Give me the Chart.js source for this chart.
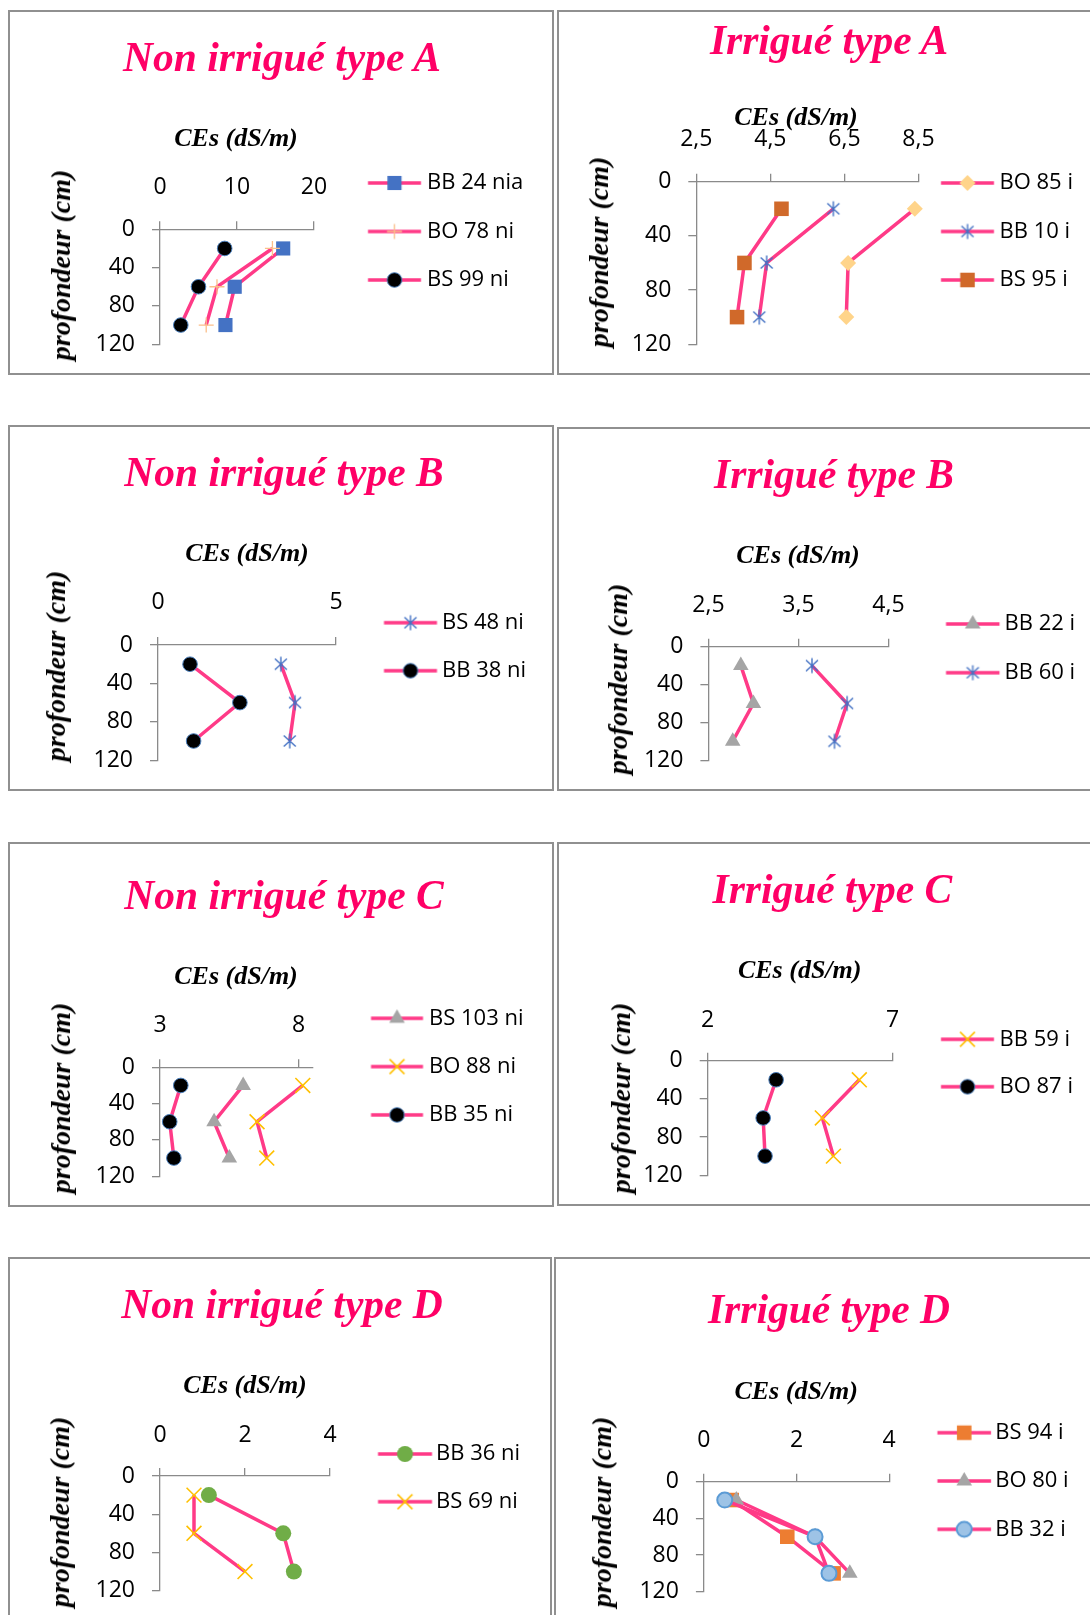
<!DOCTYPE html>
<html>
<head>
<meta charset="utf-8">
<script src="https://cdn.jsdelivr.net/npm/chart.js"></script>
<style>
  body { margin: 0; width: 1090px; height: 1615px; background: #fff; position: relative; overflow: hidden; }
  .panel { position: absolute; border: 2px solid #909090; box-sizing: border-box; }
  canvas { position: absolute; }
  .txt { position: absolute; white-space: nowrap; line-height: 1; font-family: 'Liberation Serif', 'Times New Roman', serif; }
  .ttl { color: #ff0066; font-style: italic; font-weight: bold; font-size: 41.5px; }
  .axt { color: #000; font-style: italic; font-weight: bold; font-size: 26px; }
  .ayt { color: #000; font-style: italic; font-weight: bold; font-size: 28px; }
</style>
</head>
<body>
<script>
// depth of the three sampled horizons (cm) and depth axis ticks
const depths = [20, 60, 100];
const depthTicks = [0, 40, 80, 120];

// Non irrigué type A
const niA_ticks = [0, 10, 20];
const niA_names = ['BB 24 nia', 'BO 78 ni', 'BS 99 ni'];
const niA_bb24 = [16.0, 9.7, 8.5];
const niA_bo78 = [14.6, 7.4, 6.0];
const niA_bs99 = [8.4, 5.0, 2.7];

// Irrigué type A
const iA_ticks = [2.5, 4.5, 6.5, 8.5];
const iA_names = ['BO 85 i', 'BB 10 i', 'BS 95 i'];
const iA_bo85 = [8.4, 6.6, 6.55];
const iA_bb10 = [6.2, 4.4, 4.2];
const iA_bs95 = [4.8, 3.8, 3.6];

// Non irrigué type B
const niB_ticks = [0, 5];
const niB_names = ['BS 48 ni', 'BB 38 ni'];
const niB_bs48 = [3.45, 3.85, 3.7];
const niB_bb38 = [0.9, 2.3, 1.0];

// Irrigué type B
const iB_ticks = [2.5, 3.5, 4.5];
const iB_names = ['BB 22 i', 'BB 60 i'];
const iB_bb22 = [2.86, 3.0, 2.77];
const iB_bb60 = [3.65, 4.04, 3.9];

// Non irrigué type C
const niC_ticks = [3, 8];
const niC_names = ['BS 103 ni', 'BO 88 ni', 'BB 35 ni'];
const niC_bs103 = [6.0, 4.95, 5.5];
const niC_bo88 = [8.15, 6.5, 6.85];
const niC_bb35 = [3.75, 3.35, 3.5];

// Irrigué type C
const iC_ticks = [2, 7];
const iC_names = ['BB 59 i', 'BO 87 i'];
const iC_bb59 = [6.1, 5.1, 5.4];
const iC_bo87 = [3.85, 3.5, 3.55];

// Non irrigué type D
const niD_ticks = [0, 2, 4];
const niD_names = ['BB 36 ni', 'BS 69 ni'];
const niD_bb36 = [1.15, 2.9, 3.15];
const niD_bs69 = [0.8, 0.8, 2.0];

// Irrigué type D
const iD_ticks = [0, 2, 4];
const iD_names = ['BS 94 i', 'BO 80 i', 'BB 32 i'];
const iD_bs94 = [0.6, 1.8, 2.8];
const iD_bo80 = [0.7, 2.4, 3.15];
const iD_bb32 = [0.45, 2.4, 2.7];

const FONT = 22;      // legend text
const TICKFONT = 23;  // axis tick labels
const SANS = "'Open Sans', sans-serif";
const LINE = '#ff3a87';
const AXIS = '#8a8a8a';

// Excel-like asterisk marker (vertical bar + X)
function asterisk(color) {
    const c = document.createElement('canvas');
    c.width = 18; c.height = 18;
    const g = c.getContext('2d');
    g.strokeStyle = color; g.lineWidth = 1.4;
    g.beginPath();
    g.moveTo(9, 1.5); g.lineTo(9, 16.5);
    g.moveTo(3, 3.5); g.lineTo(15, 14.5);
    g.moveTo(15, 3.5); g.lineTo(3, 14.5);
    g.stroke();
    return c;
}

const markers = {
    blueSquare:  { style: 'rect', r: 10, bg: '#4472c4', border: '#4472c4', bw: 0 },
    peachPlus:   { style: 'cross', r: 7.5, bg: '#fbbf8a', border: '#fbbf8a', bw: 1.3 },
    blackDot:    { style: 'circle', r: 7.3, bg: '#000', border: '#4a7ebb', bw: 1 },
    diamond:     { style: 'rectRot', r: 8, bg: '#ffd48a', border: '#ffd48a', bw: 0 },
    asterisk:    { style: asterisk('#4472c4'), r: 9, bg: '#4472c4', border: '#4472c4', bw: 0 },
    brownSquare: { style: 'rect', r: 10.3, bg: '#d0692a', border: '#d0692a', bw: 0 },
    greyTri:     { style: 'triangle', r: 9, bg: '#a5a5a5', border: '#a5a5a5', bw: 0 },
    goldX:       { style: 'crossRot', r: 10.5, bg: '#ffc000', border: '#ffc000', bw: 1.6 },
    greenDot:    { style: 'circle', r: 8, bg: '#70ad47', border: '#70ad47', bw: 0 },
    orangeSquare:{ style: 'rect', r: 10.3, bg: '#ed7d31', border: '#ed7d31', bw: 0 },
    blueDot:     { style: 'circle', r: 7.5, bg: '#9dc3e6', border: '#5b9bd5', bw: 2 }
};

// page layout of the eight panels (positions only)
const panels = [
    { title: 'Non irrigué type A', ticks: niA_ticks, min: 0, max: 20, names: niA_names,
      series: [niA_bb24, niA_bo78, niA_bs99], marks: ['blueSquare', 'peachPlus', 'blackDot'],
      box: [8, 10, 546, 365], plot: [160, 229.3, 314, 345], xLabY: 187, row1: 183, gap: 48.5,
      line: [368, 421], textX: 427, titleAt: [282, 71.7], xtAt: [236, 146.7], ytAt: [64, 265] },
    { title: 'Irrigué type A', ticks: iA_ticks, min: 2.5, max: 8.5, names: iA_names,
      series: [iA_bo85, iA_bb10, iA_bs95], marks: ['diamond', 'asterisk', 'brownSquare'],
      box: [557, 10, 600, 365], plot: [696.3, 181.7, 918.5, 358.3], xLabY: 139, row1: 183, gap: 48.5,
      line: [941, 994], textX: 999.5, titleAt: [829, 55], xtAt: [796, 126], ytAt: [602, 252] },
    { title: 'Non irrigué type B', ticks: niB_ticks, min: 0, max: 5, names: niB_names,
      series: [niB_bs48, niB_bb38], marks: ['asterisk', 'blackDot'],
      box: [8, 425, 546, 366], plot: [158, 645, 336, 760.7], xLabY: 602.7, row1: 622.7, gap: 48,
      line: [384, 437], textX: 442, titleAt: [284, 486.7], xtAt: [247, 561.7], ytAt: [59, 666] },
    { title: 'Irrigué type B', ticks: iB_ticks, min: 2.5, max: 4.5, names: iB_names,
      series: [iB_bb22, iB_bb60], marks: ['greyTri', 'asterisk'],
      box: [557, 427, 600, 364], plot: [708.4, 646.7, 888.5, 761.7], xLabY: 605, row1: 624, gap: 48.7,
      line: [946, 999.5], textX: 1004.5, titleAt: [834, 488.3], xtAt: [798, 563.3], ytAt: [620.6, 679] },
    { title: 'Non irrigué type C', ticks: niC_ticks, min: 3, max: 8.5, names: niC_names,
      series: [niC_bs103, niC_bo88, niC_bb35], marks: ['greyTri', 'goldX', 'blackDot'],
      box: [8, 842, 546, 365], plot: [160, 1067.3, 312.5, 1176.7], xLabY: 1025, row1: 1018.3, gap: 48.3,
      line: [371, 423], textX: 429, titleAt: [284, 910], xtAt: [236, 985], ytAt: [64, 1098] },
    { title: 'Irrigué type C', ticks: iC_ticks, min: 2, max: 7, names: iC_names,
      series: [iC_bb59, iC_bo87], marks: ['goldX', 'blackDot'],
      box: [557, 842, 600, 364], plot: [707.7, 1060.7, 892.6, 1176.7], xLabY: 1020, row1: 1039.3, gap: 47.4,
      line: [941, 994], textX: 999.5, titleAt: [832.4, 903.3], xtAt: [799.7, 978.3], ytAt: [624, 1098] },
    { title: 'Non irrigué type D', ticks: niD_ticks, min: 0, max: 4, names: niD_names,
      series: [niD_bb36, niD_bs69], marks: ['greenDot', 'goldX'],
      box: [8, 1257, 544, 420], plot: [160, 1476, 330, 1590.7], xLabY: 1435, row1: 1454, gap: 47.7,
      line: [378, 432], textX: 436, titleAt: [282, 1318.3], xtAt: [245, 1393.3], ytAt: [63, 1512] },
    { title: 'Irrigué type D', ticks: iD_ticks, min: 0, max: 4, names: iD_names,
      series: [iD_bs94, iD_bo80, iD_bb32], marks: ['orangeSquare', 'greyTri', 'blueDot'],
      box: [554, 1257, 600, 420], plot: [703.9, 1481.7, 889.2, 1591.7], xLabY: 1440, row1: 1432.7, gap: 48.3,
      line: [937.4, 991], textX: 995.2, titleAt: [829, 1324], xtAt: [796.2, 1400], ytAt: [605, 1512] }
];

function drawMarker(g, m, x, y) {
    if (typeof m.style === 'string') {
        g.fillStyle = m.bg; g.strokeStyle = m.border; g.lineWidth = m.bw;
        Chart.helpers.drawPoint(g, { pointStyle: m.style, radius: m.r, rotation: 0, borderWidth: m.bw }, x, y);
    } else {
        g.drawImage(m.style, x - m.style.width / 2, y - m.style.height / 2);
    }
}

// legend symbol: pink segment with the marker in its middle
function swatch(m, from, to, width) {
    const c = document.createElement('canvas');
    c.width = width; c.height = 30;
    const g = c.getContext('2d');
    g.strokeStyle = LINE; g.lineWidth = 3.5;
    g.beginPath(); g.moveTo(from, 15); g.lineTo(to, 15); g.stroke();
    drawMarker(g, m, (from + to) / 2, 15);
    return c;
}

function addText(cls, text, x, y, rotate) {
    const d = document.createElement('div');
    d.className = 'txt ' + cls;
    d.textContent = text;
    document.body.appendChild(d);
    const fs = parseFloat(getComputedStyle(d).fontSize);
    if (rotate) {
        d.style.left = (x - 0.1 * fs) + 'px';
        d.style.top = y + 'px';
        d.style.transform = 'translate(-50%, -50%) rotate(-90deg)';
    } else {
        d.style.left = x + 'px';
        d.style.top = (y - 0.8375 * fs) + 'px';
        d.style.transform = 'translateX(-50%)';
    }
}

const fmt = v => String(v).replace('.', ',');
const measureCtx = document.createElement('canvas').getContext('2d');

function makePanel(p) {
    const [bx, by, bwid, bhei] = p.box;
    const div = document.createElement('div');
    div.className = 'panel';
    Object.assign(div.style, { left: bx + 'px', top: by + 'px', width: bwid + 'px', height: bhei + 'px' });
    document.body.appendChild(div);

    const cw = bwid, ch = bhei;
    const canvas = document.createElement('canvas');
    canvas.width = cw; canvas.height = ch;
    Object.assign(canvas.style, { left: bx + 'px', top: by + 'px' });
    document.body.appendChild(canvas);

    const [L, T, R, B] = p.plot;
    const padL = 2, padT = 2;
    const lp = p.gap - FONT;
    const legendOffset = p.row1 - lp - FONT / 2 - (by + padT);
    const itemX = R + lp;
    const boxW = p.textX - FONT / 2 - itemX;
    const c = itemX + boxW / 2;
    const half = Math.ceil(Math.max(c - p.line[0], p.line[1] - c)) + 2;
    const off = c - half;
    const swatches = p.marks.map(k => swatch(markers[k], p.line[0] - off, p.line[1] - off, half * 2));

    // legend box width, computed the way Chart.js does it
    const legendFont = { family: SANS, size: FONT };
    measureCtx.font = Chart.helpers.toFont(legendFont).string;
    const textW = Math.max(...p.names.map(n => measureCtx.measureText(n).width));
    const legendW = lp + boxW + FONT / 2 + textW + 10;
    const padR = (bx + cw) - R - legendW;

    const xPad = T - 8 - p.xLabY - TICKFONT * 0.6;

    const datasets = p.series.map((vals, i) => {
        const m = markers[p.marks[i]];
        return {
            label: p.names[i],
            data: vals.map((v, j) => ({ x: v, y: depths[j] })),
            showLine: true, tension: 0, fill: false, clip: false,
            borderColor: LINE, borderWidth: 3.5,
            pointStyle: m.style, pointRadius: m.r, pointHoverRadius: m.r,
            pointBackgroundColor: m.bg, pointBorderColor: m.border, pointBorderWidth: m.bw,
            order: p.series.length - i
        };
    });

    const tickFont = { family: SANS, size: TICKFONT };
    new Chart(canvas, {
        type: 'scatter',
        data: { datasets },
        options: {
            responsive: false, animation: false, devicePixelRatio: 1,
            layout: { padding: { left: padL, top: padT, right: padR, bottom: by + ch - B } },
            plugins: {
                tooltip: { enabled: false },
                legend: {
                    position: 'right', align: 'start', maxWidth: 5000,
                    title: { display: true, text: ' ', font: { size: 1 }, padding: { top: legendOffset - 1.2, bottom: 0 } },
                    labels: {
                        usePointStyle: true, pointStyleWidth: boxW, boxHeight: FONT, padding: lp,
                        color: '#000', font: legendFont,
                        sort: (a, b) => a.datasetIndex - b.datasetIndex,
                        generateLabels: chart => Chart.defaults.plugins.legend.labels.generateLabels(chart)
                            .map(it => Object.assign(it, { pointStyle: swatches[it.datasetIndex] }))
                    }
                }
            },
            scales: {
                x: {
                    type: 'linear', position: 'top', min: p.min, max: p.max,
                    afterFit: s => { s.height = T - by - padT; },
                    afterBuildTicks: s => { s.ticks = p.ticks.map(v => ({ value: v })); },
                    grid: { drawOnChartArea: false, drawTicks: true, tickLength: 8, color: AXIS, lineWidth: 1.3 },
                    border: { display: true, color: AXIS, width: 1.3 },
                    ticks: { padding: xPad, color: '#000', font: tickFont, maxRotation: 0, autoSkip: false, callback: fmt }
                },
                y: {
                    type: 'linear', position: 'left', reverse: true, min: 0, max: 120,
                    afterFit: s => { s.width = L - bx - padL; },
                    afterBuildTicks: s => { s.ticks = depthTicks.map(v => ({ value: v })); },
                    grid: { drawOnChartArea: false, drawTicks: true, tickLength: 8, color: AXIS, lineWidth: 1.3 },
                    border: { display: true, color: AXIS, width: 1.3 },
                    ticks: { padding: 17, color: '#000', font: tickFont, autoSkip: false }
                }
            }
        }
    });

    addText('ttl', p.title, p.titleAt[0], p.titleAt[1]);
    addText('axt', 'CEs (dS/m)', p.xtAt[0], p.xtAt[1]);
    addText('ayt', 'profondeur (cm)', p.ytAt[0], p.ytAt[1], true);
}

panels.forEach(makePanel);
</script>
</body>
</html>
